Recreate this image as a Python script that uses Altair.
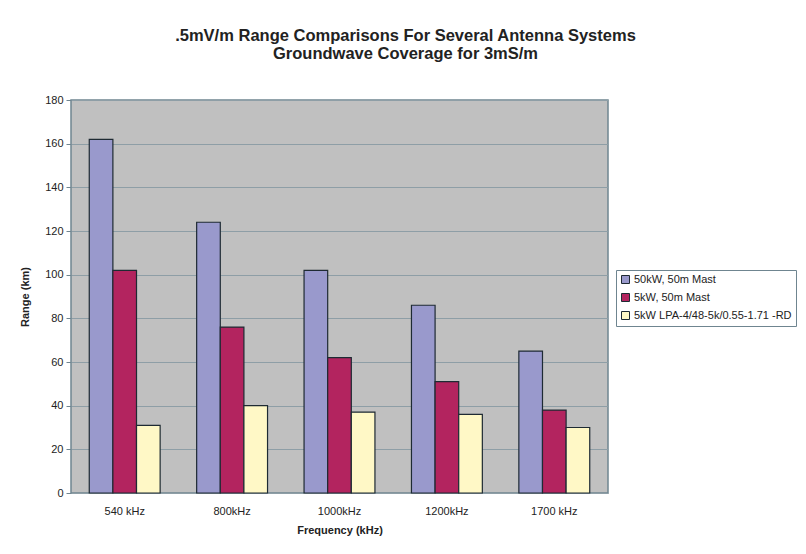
import altair as alt
import pandas as pd

categories = ["540 kHz", "800kHz", "1000kHz", "1200kHz", "1700 kHz"]
series = ["50kW, 50m Mast", "5kW, 50m Mast", "5kW LPA-4/48-5k/0.55-1.71 -RD"]
values_50kw = [162, 124, 102, 86, 65]
values_5kw = [102, 76, 62, 51, 38]
values_lpa = [31, 40, 37, 36, 30]
colors = ["#9999CC", "#B3245F", "#FFF8C6"]

rows = []
for vals, s in zip([values_50kw, values_5kw, values_lpa], series):
    for c, v in zip(categories, vals):
        rows.append({"Frequency": c, "Series": s, "Range": v})
df = pd.DataFrame(rows)

font = "Liberation Sans"

chart = alt.Chart(df).mark_bar(stroke="#1E2A33", strokeWidth=1.2).encode(
    x=alt.X("Frequency:N", sort=categories,
            scale=alt.Scale(paddingInner=0.34, paddingOuter=0.17),
            axis=alt.Axis(title="Frequency (kHz)", labelAngle=0, ticks=False,
                          labelPadding=12, titlePadding=8, domain=False)),
    xOffset=alt.XOffset("Series:N", sort=series),
    y=alt.Y("Range:Q", scale=alt.Scale(domain=[0, 180]),
            axis=alt.Axis(title="Range (km)", values=list(range(0, 181, 20)),
                          tickSize=5, labelPadding=3, titlePadding=14,
                          domain=False, tickColor="#6F8590", gridColor="#8E9EA6")),
    color=alt.Color("Series:N", sort=series,
                    scale=alt.Scale(domain=series, range=colors),
                    legend=alt.Legend(title=None, orient="none", legendX=545, legendY=170,
                                      symbolType="square", symbolSize=64,
                                      symbolStrokeColor="#1E2A33", symbolStrokeWidth=1,
                                      labelFontSize=11, labelLimit=300, rowPadding=5,
                                      labelOffset=3, padding=4, strokeColor="#6F8590",
                                      fillColor="white", labelColor="#222222",
                                      labelFont=font)),
).properties(
    width=537, height=393,
    title=alt.TitleParams(
        text=[".5mV/m Range Comparisons For Several Antenna Systems",
              "Groundwave Coverage for 3mS/m"],
        fontSize=16.5, font=font, fontWeight="bold", color="#222222",
        anchor="middle", dx=66, offset=32, lineHeight=18),
    padding={"left": 63, "top": 92, "right": 190, "bottom": 45},
    autosize=alt.AutoSizeParams(type="none"),
    background="white",
).configure_view(
    fill="#C0C0C0", stroke="#6F8590", strokeWidth=1.5
).configure_axis(
    labelFont=font, titleFont=font, labelFontSize=11, titleFontSize=11,
    titleFontWeight="bold", labelColor="#222222", titleColor="#222222",
)

chart.save("out.html", embed_options={"renderer": "svg", "actions": False})
